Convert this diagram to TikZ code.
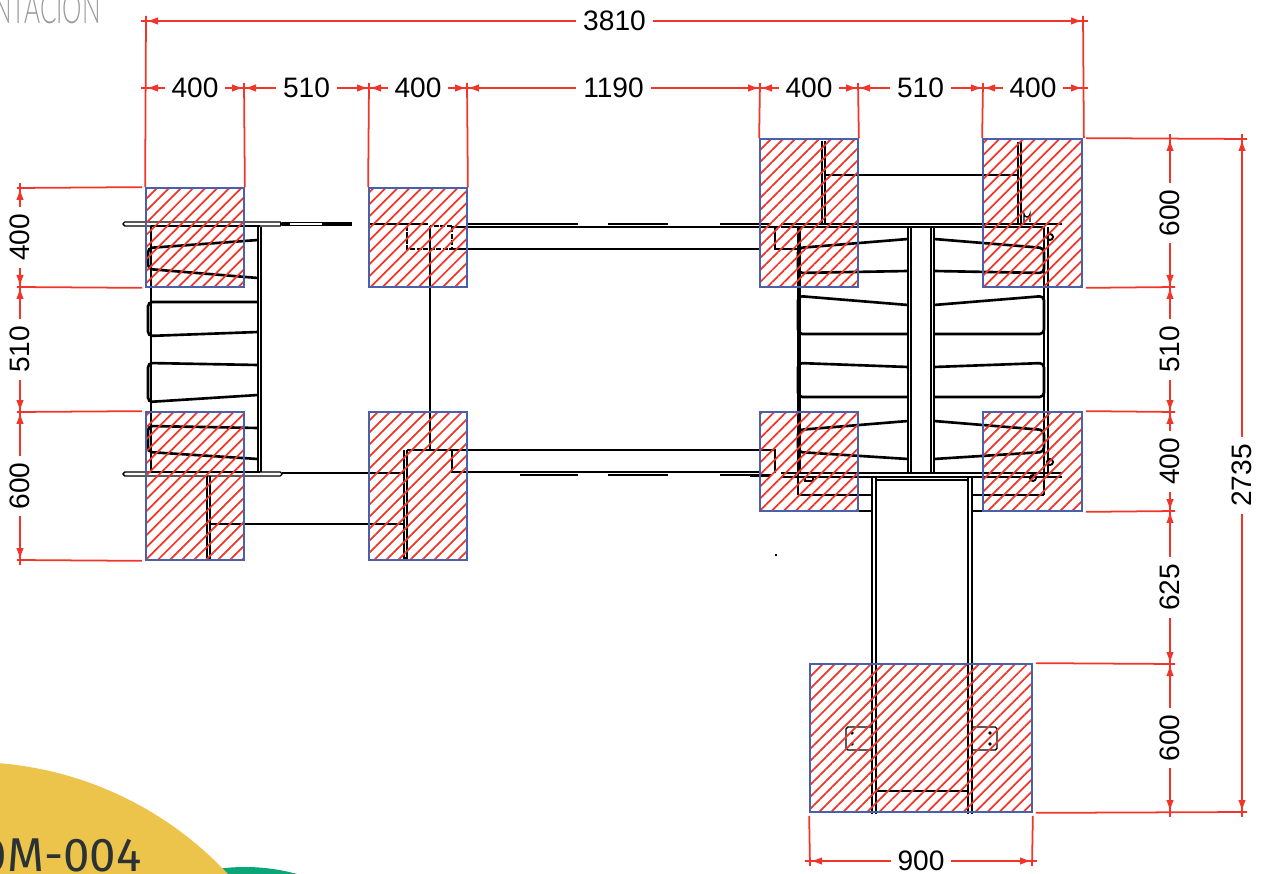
\documentclass[tikz,border=0pt]{standalone}
\usepackage{fontspec}
\setmainfont{Liberation Sans}
\newfontfamily\codefont{Fira Sans}
\newfontfamily\titlefont{Lato Light}
\usetikzlibrary{arrows.meta,calc,patterns.meta,positioning}
\definecolor{dimred}{HTML}{F0362B}
\definecolor{blockblue}{HTML}{4A60A8}
\definecolor{sunyellow}{HTML}{ECC44C}
\definecolor{leafgreen}{HTML}{0AA678}
\definecolor{inkgrey}{HTML}{2B3236}
\tikzset{
  thinline/.style={black,line width=0.8pt},
  slat/.style={black,line width=1.5pt,rounded corners=2.5pt},
  post/.style={black,line width=1.1pt},
  hatchbox/.style={draw=blockblue,line width=1pt,inner sep=0pt,
    pattern={Lines[angle=45,distance=0.17cm,line width=1pt]},pattern color=dimred},
  dimline/.style={dimred,line width=1pt},
  dimarrow/.style={dimline,{Latex[length=0.24cm,width=0.15cm]}-{Latex[length=0.24cm,width=0.15cm]}},
  dimlabel/.style={fill=white,text=black,font=\fontsize{16}{16}\selectfont,inner xsep=0.14cm,inner ysep=0pt},
}

\begin{document}
\begin{tikzpicture}[x=0.02cm,y=-0.02cm]
\useasboundingbox (0,0) rectangle (1270,874);
\clip (0,0) rectangle (1270,874);

% corner decoration
\fill[leafgreen] (245,1063) circle (196);
\fill[sunyellow] (-30,1115) circle (353);
\node[anchor=base east,text=inkgrey,inner sep=0pt,font=\codefont\fontsize{27}{27}\selectfont] (codetag) at (142,871) {0M-004};
\node[anchor=base east,text=black!40,inner sep=0pt,font=\titlefont\fontsize{24}{24}\selectfont,xscale=0.58] (sheettag) at (101,24) {NTACION};

% top and bottom plates, left half
\draw[thinline,rounded corners=1pt] (123,222) rectangle (282,226);
\draw[thinline,rounded corners=1pt] (123,472) rectangle (282,476);
\draw[post] (151,226) -- (260,226);
\draw[post] (151,472) -- (260,472);
\draw[thinline] (151,226) -- (151,472);
\draw[post] (258,227) -- (258,472);
\draw[post] (261,227) -- (261,472);
\draw[thinline] (282,222.5) -- (352,222.5);
\draw[thinline] (282,225.5) -- (352,225.5);
\draw[post] (280,224) -- (290,224);
\draw[post] (322,224) -- (352,224);
\draw[thinline] (282,473) -- (405,473);

% slats, left set
\draw[slat] (258,240) -- (148,248) -- (148,269) -- (258,278);
\draw[slat] (258,302) -- (148,302) -- (148,336) -- (258,332);
\draw[slat] (258,365) -- (148,363) -- (148,402) -- (258,395);
\draw[slat] (258,428) -- (148,426) -- (148,452) -- (258,459);

% legs and rails, left half
\draw[post] (207,476) -- (207,558) -- (210,558) -- (210,476);
\draw[thinline] (210,524) -- (405,524);
\draw[post] (404,450) -- (404,558) -- (407,558) -- (407,450);
\draw[thinline] (407,450) -- (760,450);
\draw[thinline] (452,450) -- (452,472) -- (760,472);
\draw[post] (430,226) -- (430,450);
\draw[post] (369,224) -- (428,224);
\draw[post,dash pattern=on 3pt off 0.7pt] (407,226) -- (407,249) -- (452,249) -- (452,226) -- (430,226);
\draw[thinline] (452,249) -- (760,249);
\draw[thinline] (452,227) -- (780,227);
\draw[thinline] (467,224) -- (520,224);
\foreach \xa/\xb in {520/578,608/668,720/771} {
  \draw[post] (\xa,224) -- (\xb,224);
  \draw[thinline] (\xa,475) -- (\xb,475);
}

% plates and frame, right half
\draw[post] (781,224) -- (1062,224);
\draw[post] (781,227) -- (1045,227);
\draw[post] (781,473) -- (1062,473);
\draw[thinline] (781,477) -- (1062,477);
\draw[thinline] (775,226) -- (775,249) -- (798,249);
\draw[thinline] (760,450) -- (775,450) -- (775,473);
\draw[thinline] (750,476) -- (771,476);
\draw[post] (798,227) -- (798,495);
\draw[post] (800,227) -- (800,473);
\draw[post] (1044,227) -- (1044,495);
\draw[thinline] (1048,227) -- (1048,473);
\draw[thinline] (798,495) -- (872,495);
\draw[thinline] (972,495) -- (1044,495);
\draw[thinline] (858,511) -- (872,511);
\draw[thinline] (972,511) -- (983,511);

% centre column
\draw[post] (908,227) -- (908,473);
\draw[post] (911,227) -- (911,473);
\draw[post] (931,227) -- (931,473);
\draw[post] (934,227) -- (934,473);

% slats, right set
\foreach \ya/\yb/\yc/\yd in {248/239/271/273,296/305/334/334,363/367/397/397,430/421/459/452} {
  \draw[slat] (908,\yb) -- (798,\ya) -- (798,\yd) -- (908,\yc);
  \draw[slat] (934,\yb) -- (1044,\ya) -- (1044,\yd) -- (934,\yc);
}

% legs, bolts and tie bars
\draw[post] (822,141) -- (822,223);
\draw[post] (825,141) -- (825,223);
\draw[thinline] (825,175) -- (1018,175);
\draw[post] (1018,142) -- (1018,223);
\draw[post] (1021,142) -- (1021,223);
\draw[thinline] (1024,222) -- (1024,214) arc (180:0:3) -- (1030,222);
\draw[post] (1050,237) circle (3);
\draw[post] (1050,462) circle (3);
\draw[post] (1033,478) circle (3);
\draw[thinline] (805,477) -- (805,481) -- (813,481) -- (813,477);

% long arm and base
\draw[thinline] (876,480) -- (968,480);
\foreach \xa in {872,876,968,972} {
  \draw[post] (\xa,477) -- (\xa,814);
}
\draw[thinline] (876,791) -- (968,791);
\draw[thinline,rounded corners=1pt] (871,727) -- (846,727) -- (846,750) -- (871,750);
\draw[thinline,rounded corners=1pt] (972,727) -- (997,727) -- (997,750) -- (972,750);
\foreach \xa/\ya in {852/733,852/744,990/733,990/744} {
  \fill[black] (\xa,\ya) circle (1.8);
}
\fill[black] (775,554) rectangle (777,556);

% hatched blocks
\node[hatchbox,minimum width=1.96cm,minimum height=1.98cm] (blockA) at (195,237.5) {};
\node[hatchbox,minimum width=1.96cm,minimum height=1.98cm] (blockB) at (418,237.5) {};
\node[hatchbox,minimum width=1.96cm,minimum height=2.96cm] (blockC) at (195,486) {};
\node[hatchbox,minimum width=1.96cm,minimum height=2.96cm] (blockD) at (418,486) {};
\node[hatchbox,minimum width=1.96cm,minimum height=2.96cm] (blockE) at (809,213) {};
\node[hatchbox,minimum width=1.98cm,minimum height=2.96cm] (blockF) at (1032.5,213) {};
\node[hatchbox,minimum width=1.96cm,minimum height=1.98cm] (blockG) at (809,461.5) {};
\node[hatchbox,minimum width=1.98cm,minimum height=1.98cm] (blockH) at (1032.5,461.5) {};
\node[hatchbox,minimum width=4.44cm,minimum height=2.96cm] (blockI) at (921,738) {};

% dimension points
\coordinate (topL) at (146,21);
\coordinate (topR) at (1083,21);
\foreach \nm/\xx in {h1/146,h2/244,h3/369,h4/467,h5/760,h6/858,h7/983,h8/1083} {
  \coordinate (\nm) at (\xx,88);
}
\foreach \nm/\yy in {l1/188,l2/287,l3/412,l4/560} {
  \coordinate (\nm) at (20,\yy);
}
\foreach \nm/\yy in {r1/139,r2/287,r3/412,r4/511,r5/664,r6/812} {
  \coordinate (\nm) at (1170,\yy);
}
\coordinate (farT) at (1242,139);
\coordinate (farB) at (1242,812);
\coordinate (botL) at (810,861);
\coordinate (botR) at (1032,861);

% extension lines
\draw[dimline] (blockA.north west) -- ($(topL)+(0,-5)$);
\draw[dimline] (blockA.north east) -- ($(h2)+(0,-5)$);
\draw[dimline] (blockB.north west) -- ($(h3)+(0,-5)$);
\draw[dimline] (blockB.north east) -- ($(h4)+(0,-5)$);
\draw[dimline] (blockE.north west) -- ($(h5)+(0,-5)$);
\draw[dimline] (blockE.north east) -- ($(h6)+(0,-5)$);
\draw[dimline] (blockF.north west) -- ($(h7)+(0,-5)$);
\draw[dimline] ($(blockF.north east)+(1,0)$) -- ($(topR)+(0,-5)$);
\draw[dimline] ($(blockA.north west)+(-3,0)$) -- ($(l1)+(-3,0)$);
\draw[dimline] ($(blockA.south west)+(-3,0)$) -- ($(l2)+(-3,0)$);
\draw[dimline] ($(blockC.north west)+(-3,0)$) -- ($(l3)+(-3,0)$);
\draw[dimline] ($(blockC.south west)+(-3,0)$) -- ($(l4)+(-3,0)$);
\draw[dimline] ($(blockF.north east)+(3,0)$) -- ($(farT)+(5,0)$);
\draw[dimline] ($(blockF.south east)+(3,0)$) -- ($(r2)+(5,0)$);
\draw[dimline] ($(blockH.north east)+(3,0)$) -- ($(r3)+(5,0)$);
\draw[dimline] ($(blockH.south east)+(3,0)$) -- ($(r4)+(5,0)$);
\draw[dimline] ($(blockI.north east)+(3,0)$) -- ($(r5)+(5,0)$);
\draw[dimline] ($(blockI.south east)+(3,0)$) -- ($(farB)+(5,0)$);
\draw[dimline] (blockI.south west) ++(0,3) -- ($(botL)+(0,5)$);
\draw[dimline] (blockI.south east) ++(0,3) -- ($(botR)+(0,5)$);

% overruns past the ticks
\draw[dimline] ($(topL)+(-5,0)$) -- ($(topR)+(5,0)$);
\draw[dimline] ($(h1)+(-5,0)$) -- ($(h8)+(5,0)$);
\draw[dimline] ($(l1)+(0,-5)$) -- ($(l4)+(0,5)$);
\draw[dimline] ($(r1)+(0,-5)$) -- ($(r6)+(0,5)$);
\draw[dimline] ($(farT)+(0,-5)$) -- ($(farB)+(0,5)$);
\draw[dimline] ($(botL)+(-5,0)$) -- ($(botR)+(5,0)$);

% dimension lines
\draw[dimarrow] (topL) -- node[dimlabel] (dimAll) {3810} (topR);
\draw[dimarrow] (h1) -- node[dimlabel] (dimH1) {400} (h2);
\draw[dimarrow] (h2) -- node[dimlabel] (dimH2) {510} (h3);
\draw[dimarrow] (h3) -- node[dimlabel] (dimH3) {400} (h4);
\draw[dimarrow] (h4) -- node[dimlabel] (dimH4) {1190} (h5);
\draw[dimarrow] (h5) -- node[dimlabel] (dimH5) {400} (h6);
\draw[dimarrow] (h6) -- node[dimlabel] (dimH6) {510} (h7);
\draw[dimarrow] (h7) -- node[dimlabel] (dimH7) {400} (h8);
\draw[dimarrow] (l1) -- node[dimlabel,rotate=90] (dimL1) {400} (l2);
\draw[dimarrow] (l2) -- node[dimlabel,rotate=90] (dimL2) {510} (l3);
\draw[dimarrow] (l3) -- node[dimlabel,rotate=90] (dimL3) {600} (l4);
\draw[dimarrow] (r1) -- node[dimlabel,rotate=90] (dimR1) {600} (r2);
\draw[dimarrow] (r2) -- node[dimlabel,rotate=90] (dimR2) {510} (r3);
\draw[dimarrow] (r3) -- node[dimlabel,rotate=90] (dimR3) {400} (r4);
\draw[dimarrow] (r4) -- node[dimlabel,rotate=90] (dimR4) {625} (r5);
\draw[dimarrow] (r5) -- node[dimlabel,rotate=90] (dimR5) {600} (r6);
\draw[dimarrow] (farT) -- node[dimlabel,rotate=90] (dimFar) {2735} (farB);
\draw[dimarrow] (botL) -- node[dimlabel] (dimBot) {900} (botR);

\end{tikzpicture}
\end{document}
